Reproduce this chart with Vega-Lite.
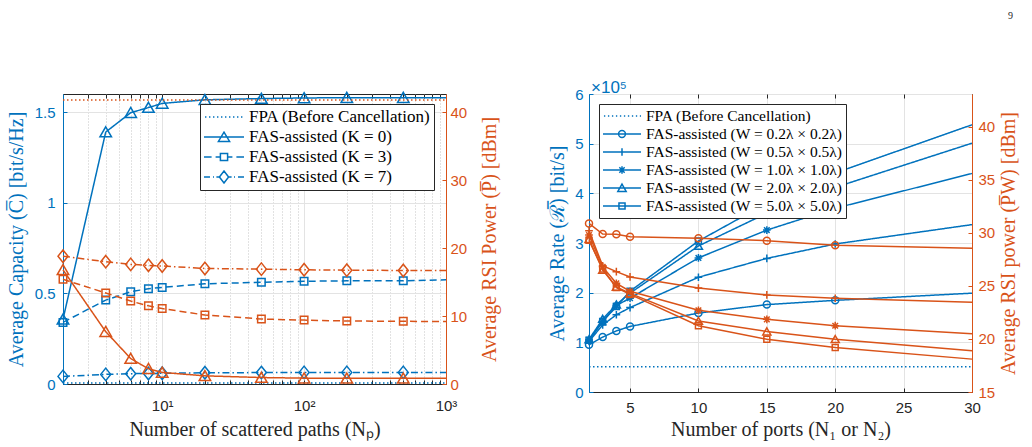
{
  "$schema": "https://vega.github.io/schema/vega-lite/v6.json",
  "autosize": {"type": "none"},
  "padding": {"left": 63, "top": 94, "right": 969, "bottom": 353},
  "background": "white",
  "title": {"text": "9", "anchor": "start", "frame": "group", "font": "Liberation Serif", "fontSize": 10, "fontWeight": "normal", "color": "#262626", "offset": 58, "dx": 945},
  "config": {
    "view": {"stroke": "#262626", "strokeWidth": 1},
    "axis": {
      "labelFont": "Liberation Sans", "labelFontSize": 15,
      "titleFont": "Liberation Serif", "titleFontSize": 20, "titleFontWeight": "normal",
      "tickSize": -4, "tickWidth": 1, "domainWidth": 1,
      "gridColor": "#e3e3e3", "gridWidth": 1,
      "labelFlush": false, "labelOverlap": false
    },
    "legend": {
      "title": null, "orient": "none",
      "strokeColor": "#262626", "fillColor": "white", "cornerRadius": 0,
      "labelFont": "Liberation Serif", "labelColor": "#000000", "labelLimit": 500,
      "symbolStrokeColor": "#0072BD", "symbolFillColor": "transparent", "symbolStrokeWidth": 1.5,
      "symbolOpacity": 1, "rowPadding": 0, "padding": 3
    }
  },
  "spacing": 143,
  "bounds": "flush",
  "resolve": {"scale": {"strokeDash": "independent", "shape": "independent"}},
  "hconcat": [
    {
      "width": 383,
      "height": 290,
      "data": {"values": [
        {"Np": 2, "series": "FPA", "C": 0.005, "P": 41.8},
        {"Np": 1000, "series": "FPA", "C": 0.005, "P": 41.8},
        {"Np": 2, "series": "K0", "C": 0.357, "P": 16.8},
        {"Np": 4, "series": "K0", "C": 1.39, "P": 7.7},
        {"Np": 6, "series": "K0", "C": 1.497, "P": 3.75},
        {"Np": 8, "series": "K0", "C": 1.525, "P": 2.25},
        {"Np": 10, "series": "K0", "C": 1.548, "P": 1.7},
        {"Np": 20, "series": "K0", "C": 1.568, "P": 1.2},
        {"Np": 50, "series": "K0", "C": 1.575, "P": 0.95},
        {"Np": 100, "series": "K0", "C": 1.578, "P": 0.86},
        {"Np": 200, "series": "K0", "C": 1.58, "P": 0.84},
        {"Np": 500, "series": "K0", "C": 1.58, "P": 0.83},
        {"Np": 1000, "series": "K0", "C": 1.58, "P": 0.83},
        {"Np": 2, "series": "K3", "C": 0.34, "P": 15.4},
        {"Np": 4, "series": "K3", "C": 0.463, "P": 13.4},
        {"Np": 6, "series": "K3", "C": 0.509, "P": 12.2},
        {"Np": 8, "series": "K3", "C": 0.526, "P": 11.5},
        {"Np": 10, "series": "K3", "C": 0.533, "P": 11.1},
        {"Np": 20, "series": "K3", "C": 0.553, "P": 10.15},
        {"Np": 50, "series": "K3", "C": 0.561, "P": 9.56},
        {"Np": 100, "series": "K3", "C": 0.567, "P": 9.4},
        {"Np": 200, "series": "K3", "C": 0.569, "P": 9.27},
        {"Np": 500, "series": "K3", "C": 0.569, "P": 9.22},
        {"Np": 1000, "series": "K3", "C": 0.575, "P": 9.2},
        {"Np": 2, "series": "K7", "C": 0.042, "P": 18.8},
        {"Np": 4, "series": "K7", "C": 0.053, "P": 18.0},
        {"Np": 6, "series": "K7", "C": 0.057, "P": 17.6},
        {"Np": 8, "series": "K7", "C": 0.058, "P": 17.46},
        {"Np": 10, "series": "K7", "C": 0.059, "P": 17.36},
        {"Np": 20, "series": "K7", "C": 0.062, "P": 17.0},
        {"Np": 50, "series": "K7", "C": 0.063, "P": 16.9},
        {"Np": 100, "series": "K7", "C": 0.064, "P": 16.8},
        {"Np": 200, "series": "K7", "C": 0.064, "P": 16.75},
        {"Np": 500, "series": "K7", "C": 0.064, "P": 16.7},
        {"Np": 1000, "series": "K7", "C": 0.064, "P": 16.7}
      ]},
      "encoding": {
        "x": {
          "field": "Np", "type": "quantitative",
          "scale": {"type": "log", "domain": [2, 1000]},
          "axis": {
            "title": "Number of scattered paths (Nₚ)",
            "values": [2, 3, 4, 5, 6, 7, 8, 9, 10, 20, 30, 40, 50, 60, 70, 80, 90, 100, 200, 300, 400, 500, 600, 700, 800, 900, 1000],
            "labelExpr": "datum.value == 10 ? '10¹' : datum.value == 100 ? '10²' : datum.value == 1000 ? '10³' : ''",
            "grid": true,
            "gridDash": {"condition": {"test": "datum.value == 10 || datum.value == 100", "value": []}, "value": [1, 2]},
            "gridColor": {"condition": {"test": "datum.value == 10 || datum.value == 100", "value": "#e3e3e3"}, "value": "#c4c4c4"},
            "labelPadding": 18, "titlePadding": 6,
            "domainColor": "#262626", "tickColor": "#262626", "labelColor": "#262626", "titleColor": "#262626"
          }
        }
      },
      "layer": [
        {
          "encoding": {
            "y": {
              "field": "C", "type": "quantitative",
              "scale": {"domain": [0, 1.6]},
              "axis": {
                "title": "Average Capacity (C̅) [bit/s/Hz]",
                "values": [0, 0.5, 1, 1.5], "format": ".1~f",
                "grid": true, "labelPadding": 12, "titlePadding": 8,
                "domainColor": "#0072BD", "tickColor": "#0072BD", "labelColor": "#0072BD", "titleColor": "#0072BD"
              }
            }
          },
          "layer": [
            {
              "mark": {"type": "line", "color": "#0072BD", "strokeWidth": 1.5},
              "encoding": {
                "strokeDash": {"field": "series", "type": "nominal", "scale": {"domain": ["FPA", "K0", "K3", "K7"], "range": [[1.5, 2.5], [1, 0], [7, 4], [7, 3, 1.5, 3]]}, "legend": null}
              }
            },
            {
              "transform": [{"filter": "datum.series != 'FPA' && datum.Np < 1000"}],
              "mark": {"type": "point", "color": "#0072BD", "filled": false, "strokeWidth": 1.5, "size": 100, "opacity": 1},
              "encoding": {
                "shape": {"field": "series", "type": "nominal", "scale": {"domain": ["K0", "K3", "K7"], "range": ["M0,-1.05L1.15,0.95L-1.15,0.95Z", "M-0.75,-0.75L0.75,-0.75L0.75,0.75L-0.75,0.75Z", "M0,-1.25L1,0L0,1.25L-1,0Z"]}, "legend": null}
              }
            }
          ]
        },
        {
          "encoding": {
            "x": {"field": "Np", "type": "quantitative", "scale": {"type": "log", "domain": [2, 1000]}, "axis": null},
            "y": {
              "field": "P", "type": "quantitative",
              "scale": {"domain": [0, 42.67]},
              "axis": {
                "title": "Average RSI Power (P̅) [dBm]", "orient": "right",
                "values": [0, 10, 20, 30, 40],
                "grid": false, "labelPadding": 8, "titlePadding": 13, "titleAngle": 270, "titleBaseline": "top",
                "domainColor": "#D95319", "tickColor": "#D95319", "labelColor": "#D95319", "titleColor": "#D95319"
              }
            }
          },
          "layer": [
            {
              "mark": {"type": "line", "color": "#D95319", "strokeWidth": 1.5},
              "encoding": {
                "strokeDash": {"field": "series", "type": "nominal", "scale": {"domain": ["FPA", "K0", "K3", "K7"], "range": [[1.5, 2.5], [1, 0], [7, 4], [7, 3, 1.5, 3]]}, "legend": null}
              }
            },
            {
              "transform": [{"filter": "datum.series != 'FPA' && datum.Np < 1000"}],
              "mark": {"type": "point", "color": "#D95319", "filled": false, "strokeWidth": 1.5, "size": 100, "opacity": 1},
              "encoding": {
                "shape": {"field": "series", "type": "nominal", "scale": {"domain": ["K0", "K3", "K7"], "range": ["M0,-1.05L1.15,0.95L-1.15,0.95Z", "M-0.75,-0.75L0.75,-0.75L0.75,0.75L-0.75,0.75Z", "M0,-1.25L1,0L0,1.25L-1,0Z"]}, "legend": null}
              }
            }
          ]
        },
        {
          "transform": [{"filter": "false"}],
          "mark": {"type": "point", "color": "#0072BD", "filled": false, "strokeWidth": 1.5},
          "encoding": {
            "x": {
              "field": "Np", "type": "quantitative", "scale": {"type": "log", "domain": [2, 1000]},
              "axis": {"orient": "top", "title": null, "labels": false, "grid": false, "domain": false, "tickColor": "#262626",
                "values": [2, 3, 4, 5, 6, 7, 8, 9, 10, 20, 30, 40, 50, 60, 70, 80, 90, 100, 200, 300, 400, 500, 600, 700, 800, 900, 1000]}
            },
            "shape": {
              "field": "series", "type": "nominal",
              "scale": {
                "domain": ["FPA", "K0", "K3", "K7"],
                "range": [
                  "M-0.95,0L-0.88,0M-0.75,0L-0.68,0M-0.55,0L-0.48,0M-0.35,0L-0.28,0M-0.15,0L-0.08,0M0.05,0L0.12,0M0.25,0L0.32,0M0.45,0L0.52,0M0.65,0L0.72,0M0.85,0L0.92,0",
                  "M-1,0L1,0M0,-0.24L0.28,0.22L-0.28,0.22Z",
                  "M-1,0L-0.62,0M-0.42,0L-0.18,0M0.18,0L0.42,0M0.62,0L1,0M-0.18,-0.18L0.18,-0.18L0.18,0.18L-0.18,0.18Z",
                  "M-1,0L-0.7,0M-0.55,0L-0.5,0M-0.38,0L-0.22,0M0.22,0L0.38,0M0.5,0L0.55,0M0.7,0L1,0M0,-0.3L0.23,0L0,0.3L-0.23,0Z"
                ]
              },
              "legend": {
                "legendX": 137, "legendY": 10,
                "symbolSize": 1600, "clipHeight": 20, "labelOffset": 4, "labelFontSize": 17,
                "labelExpr": "datum.value == 'FPA' ? 'FPA (Before Cancellation)' : datum.value == 'K0' ? 'FAS-assisted (K = 0)' : datum.value == 'K3' ? 'FAS-assisted (K = 3)' : 'FAS-assisted (K = 7)'"
              }
            }
          }
        }
      ],
      "resolve": {"scale": {"y": "independent", "shape": "independent"}, "axis": {"x": "independent"}}
    },
    {
      "width": 383,
      "height": 298,
      "title": {"text": "×10⁵", "anchor": "start", "frame": "group", "font": "Liberation Sans", "fontSize": 17, "fontWeight": "normal", "color": "#0072BD", "offset": 2, "dy": 12, "dx": 2},
      "data": {"values": [
        {"N": 2, "W": "FPA", "R": 0.51},
        {"N": 30, "W": "FPA", "R": 0.51},
        {"N": 2, "W": "W02", "R": 0.95, "P": 30.9},
        {"N": 3, "W": "W02", "R": 1.105, "P": 29.9},
        {"N": 4, "W": "W02", "R": 1.23, "P": 29.87},
        {"N": 5, "W": "W02", "R": 1.32, "P": 29.65},
        {"N": 10, "W": "W02", "R": 1.59, "P": 29.5},
        {"N": 15, "W": "W02", "R": 1.76, "P": 29.27},
        {"N": 20, "W": "W02", "R": 1.845, "P": 28.84},
        {"N": 30, "W": "W02", "R": 1.99, "P": 28.55},
        {"N": 2, "W": "W05", "R": 1.02, "P": 30.2},
        {"N": 3, "W": "W05", "R": 1.35, "P": 26.9},
        {"N": 4, "W": "W05", "R": 1.555, "P": 26.35},
        {"N": 5, "W": "W05", "R": 1.7, "P": 25.85},
        {"N": 10, "W": "W05", "R": 2.31, "P": 24.8},
        {"N": 15, "W": "W05", "R": 2.69, "P": 24.15},
        {"N": 20, "W": "W05", "R": 2.98, "P": 23.84},
        {"N": 30, "W": "W05", "R": 3.37, "P": 23.46},
        {"N": 2, "W": "W10", "R": 1.05, "P": 29.8},
        {"N": 3, "W": "W10", "R": 1.42, "P": 26.8},
        {"N": 4, "W": "W10", "R": 1.74, "P": 25.25},
        {"N": 5, "W": "W10", "R": 1.89, "P": 24.5},
        {"N": 10, "W": "W10", "R": 2.7, "P": 22.7},
        {"N": 15, "W": "W10", "R": 3.26, "P": 21.85},
        {"N": 20, "W": "W10", "R": 3.7, "P": 21.25},
        {"N": 30, "W": "W10", "R": 4.4, "P": 20.5},
        {"N": 2, "W": "W20", "R": 1.06, "P": 29.4},
        {"N": 3, "W": "W20", "R": 1.47, "P": 26.5},
        {"N": 4, "W": "W20", "R": 1.76, "P": 24.9},
        {"N": 5, "W": "W20", "R": 1.99, "P": 24.3},
        {"N": 10, "W": "W20", "R": 2.94, "P": 21.7},
        {"N": 15, "W": "W20", "R": 3.6, "P": 20.7},
        {"N": 20, "W": "W20", "R": 4.12, "P": 19.97},
        {"N": 30, "W": "W20", "R": 5.01, "P": 18.9},
        {"N": 2, "W": "W50", "R": 1.04, "P": 29.3},
        {"N": 3, "W": "W50", "R": 1.42, "P": 26.6},
        {"N": 4, "W": "W50", "R": 1.72, "P": 24.85},
        {"N": 5, "W": "W50", "R": 2.03, "P": 24.2},
        {"N": 10, "W": "W50", "R": 3.04, "P": 21.25},
        {"N": 15, "W": "W50", "R": 3.8, "P": 19.97},
        {"N": 20, "W": "W50", "R": 4.41, "P": 19.2},
        {"N": 30, "W": "W50", "R": 5.38, "P": 18.1}
      ]},
      "encoding": {
        "x": {
          "field": "N", "type": "quantitative",
          "scale": {"domain": [2, 30]},
          "axis": {
            "title": "Number of ports (N₁ or N₂)",
            "values": [5, 10, 15, 20, 25, 30],
            "grid": true, "labelPadding": 12, "titlePadding": 4,
            "domainColor": "#262626", "tickColor": "#262626", "labelColor": "#262626", "titleColor": "#262626"
          }
        }
      },
      "layer": [
        {
          "encoding": {
            "y": {
              "field": "R", "type": "quantitative",
              "scale": {"domain": [0, 6]},
              "axis": {
                "title": "Average Rate (ℛ̅) [bit/s]",
                "values": [0, 1, 2, 3, 4, 5, 6],
                "grid": true, "labelPadding": 10, "titlePadding": 7,
                "domainColor": "#0072BD", "tickColor": "#0072BD", "labelColor": "#0072BD", "titleColor": "#0072BD"
              }
            }
          },
          "layer": [
            {
              "mark": {"type": "line", "color": "#0072BD", "strokeWidth": 1.5},
              "encoding": {
                "strokeDash": {"field": "W", "type": "nominal", "scale": {"domain": ["FPA", "W02", "W05", "W10", "W20", "W50"], "range": [[1.5, 2.5], [1, 0], [1, 0], [1, 0], [1, 0], [1, 0]]}, "legend": null}
              }
            },
            {
              "transform": [{"filter": "datum.W != 'FPA' && datum.N < 30"}],
              "mark": {"type": "point", "color": "#0072BD", "filled": false, "strokeWidth": 1.5, "size": 49, "opacity": 1},
              "encoding": {
                "shape": {"field": "W", "type": "nominal", "scale": {"domain": ["W02", "W05", "W10", "W20", "W50"], "range": ["M1,0A1,1 0 1,1 -1,0A1,1 0 1,1 1,0Z", "M-1.1,0L1.1,0M0,-1.1L0,1.1", "M-1.1,0L1.1,0M0,-1.1L0,1.1M-0.8,-0.8L0.8,0.8M-0.8,0.8L0.8,-0.8", "M0,-1.05L1.15,0.95L-1.15,0.95Z", "M-0.85,-0.85L0.85,-0.85L0.85,0.85L-0.85,0.85Z"]}, "legend": null}
              }
            }
          ]
        },
        {
          "transform": [{"filter": "datum.W != 'FPA'"}],
          "encoding": {
            "x": {"field": "N", "type": "quantitative", "scale": {"domain": [2, 30]}, "axis": null},
            "y": {
              "field": "P", "type": "quantitative",
              "scale": {"domain": [15, 43.1]},
              "axis": {
                "title": "Average RSI power (P̅W) [dBm]", "orient": "right",
                "values": [15, 20, 25, 30, 35, 40],
                "grid": false, "labelPadding": 10, "titlePadding": 4, "titleAngle": 270, "titleBaseline": "top",
                "domainColor": "#D95319", "tickColor": "#D95319", "labelColor": "#D95319", "titleColor": "#D95319"
              }
            }
          },
          "layer": [
            {
              "mark": {"type": "line", "color": "#D95319", "strokeWidth": 1.5},
              "encoding": {"detail": {"field": "W", "type": "nominal"}}
            },
            {
              "transform": [{"filter": "datum.N < 30"}],
              "mark": {"type": "point", "color": "#D95319", "filled": false, "strokeWidth": 1.5, "size": 49, "opacity": 1},
              "encoding": {
                "shape": {"field": "W", "type": "nominal", "scale": {"domain": ["W02", "W05", "W10", "W20", "W50"], "range": ["M1,0A1,1 0 1,1 -1,0A1,1 0 1,1 1,0Z", "M-1.1,0L1.1,0M0,-1.1L0,1.1", "M-1.1,0L1.1,0M0,-1.1L0,1.1M-0.8,-0.8L0.8,0.8M-0.8,0.8L0.8,-0.8", "M0,-1.05L1.15,0.95L-1.15,0.95Z", "M-0.85,-0.85L0.85,-0.85L0.85,0.85L-0.85,0.85Z"]}, "legend": null}
              }
            }
          ]
        },
        {
          "transform": [{"filter": "false"}],
          "mark": {"type": "point", "color": "#0072BD", "filled": false, "strokeWidth": 1.5},
          "encoding": {
            "x": {
              "field": "N", "type": "quantitative", "scale": {"domain": [2, 30]},
              "axis": {"orient": "top", "title": null, "labels": false, "grid": false, "domain": false, "tickColor": "#262626", "values": [5, 10, 15, 20, 25, 30]}
            },
            "shape": {
              "field": "W", "type": "nominal",
              "scale": {
                "domain": ["FPA", "W02", "W05", "W10", "W20", "W50"],
                "range": [
                  "M-0.95,0L-0.88,0M-0.74,0L-0.67,0M-0.53,0L-0.46,0M-0.32,0L-0.25,0M-0.11,0L-0.04,0M0.1,0L0.17,0M0.31,0L0.38,0M0.52,0L0.59,0M0.73,0L0.8,0M0.94,0L1,0",
                  "M-1,0L1,0M0.18,0A0.18,0.18 0 1,1 -0.18,0A0.18,0.18 0 1,1 0.18,0Z",
                  "M-1,0L1,0M0,-0.2L0,0.2",
                  "M-1,0L1,0M0,-0.2L0,0.2M-0.14,-0.14L0.14,0.14M-0.14,0.14L0.14,-0.14",
                  "M-1,0L1,0M0,-0.21L0.22,0.18L-0.22,0.18Z",
                  "M-1,0L1,0M-0.16,-0.16L0.16,-0.16L0.16,0.16L-0.16,0.16Z"
                ]
              },
              "legend": {
                "legendX": 10, "legendY": 10,
                "symbolSize": 1444, "clipHeight": 18, "labelOffset": 4, "labelFontSize": 15.5,
                "labelExpr": "datum.value == 'FPA' ? 'FPA (Before Cancellation)' : datum.value == 'W02' ? 'FAS-assisted (W = 0.2λ × 0.2λ)' : datum.value == 'W05' ? 'FAS-assisted (W = 0.5λ × 0.5λ)' : datum.value == 'W10' ? 'FAS-assisted (W = 1.0λ × 1.0λ)' : datum.value == 'W20' ? 'FAS-assisted (W = 2.0λ × 2.0λ)' : 'FAS-assisted (W = 5.0λ × 5.0λ)'"
              }
            }
          }
        }
      ],
      "resolve": {"scale": {"y": "independent", "shape": "independent"}, "axis": {"x": "independent"}}
    }
  ]
}
